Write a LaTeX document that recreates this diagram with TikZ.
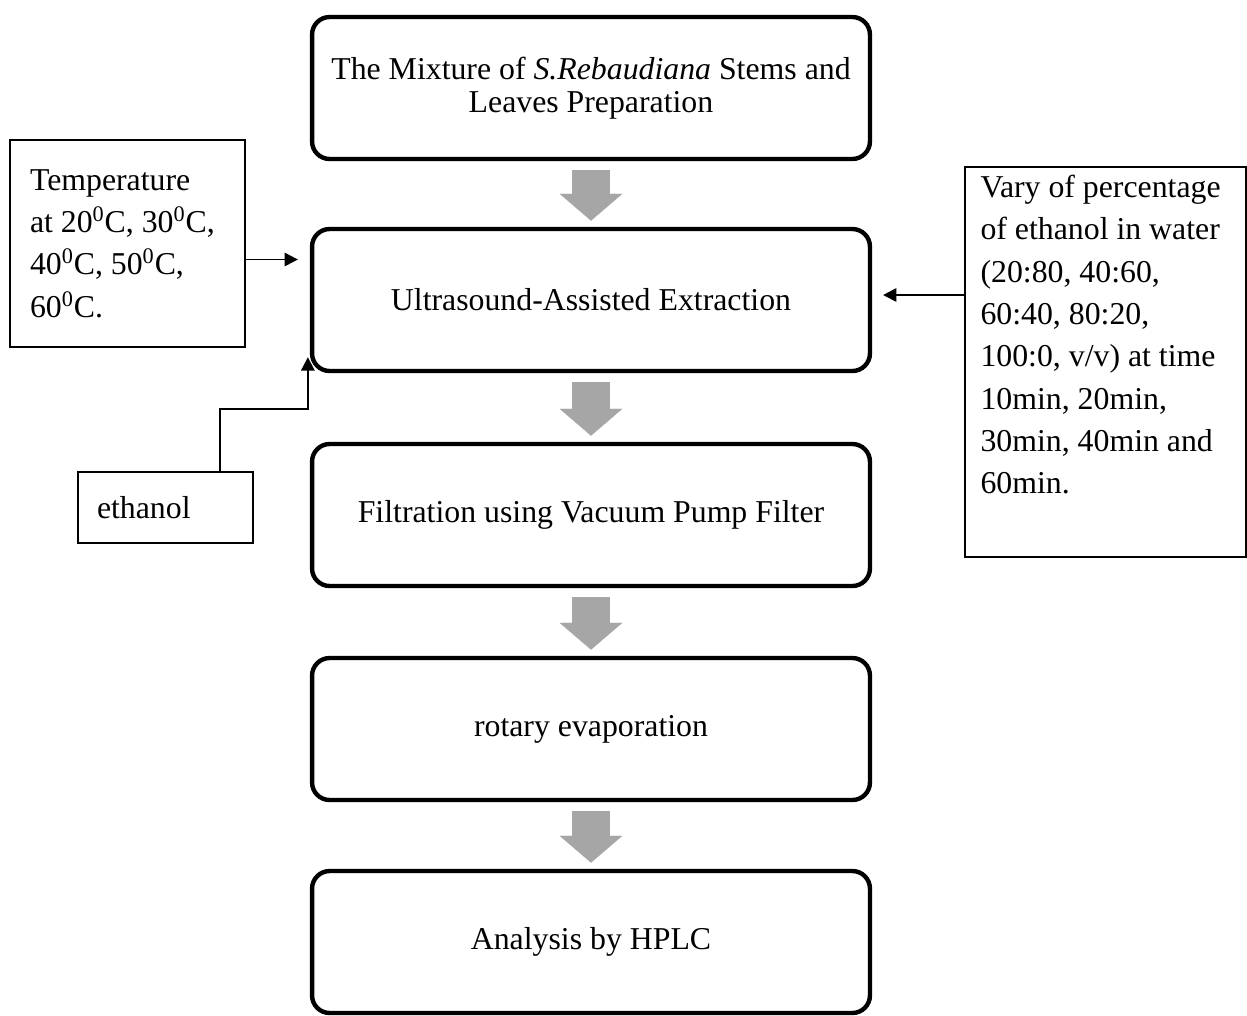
\documentclass[tikz,border=0pt]{standalone}
\usepackage{fontspec}
\setmainfont{Liberation Serif}
\usetikzlibrary{arrows.meta, positioning, calc}
\usepackage{xcolor}
\definecolor{flowgray}{RGB}{166, 166, 166}

\begin{document}
\begin{tikzpicture}[x=0.02cm, y=-0.02cm,
    process/.style={rectangle, rounded corners=10pt, draw=black, line width=2.5pt,
                    minimum width=11.16cm, minimum height=2.84cm, align=center,
                    font=\fontsize{18.1}{18.7}\selectfont},
    note/.style={rectangle, draw=black, line width=1.1pt, align=flush left, inner sep=0pt,
                 font=\fontsize{18.1}{24.1}\selectfont},
    flow/.style={draw=flowgray, line width=22pt,
                 -{Triangle[length=15.3pt, width=35.7pt, line width=0.1pt, fill=flowgray]},
                 shorten <=5pt, shorten >=3.5pt},
    feed/.style={draw=black, line width=1.1pt, -{Triangle[length=7.6pt, width=7.6pt]}}
]
\useasboundingbox (0,0) rectangle (1247,1015);

% Main steps
\node[process] (prep) at (591,88) {The Mixture of \textit{S.Rebaudiana} Stems and\\Leaves Preparation};
\node[process] (uae) at (591,300) {Ultrasound-Assisted Extraction};
\node[process] (filt) at (591,515) {Filtration using Vacuum Pump Filter};
\node[process] (rotary) at (591,729) {rotary evaporation};
\node[process] (hplc) at (591,942) {Analysis by HPLC};

% Left side - conditions
\node[note, minimum width=4.7cm, minimum height=4.14cm, text width=3.9cm] (temp) at (127.5,243.5)
    {Temperature\\at 20\textsuperscript{0}C, 30\textsuperscript{0}C,\\40\textsuperscript{0}C, 50\textsuperscript{0}C,\\60\textsuperscript{0}C.};
\node[note, minimum width=3.5cm, minimum height=1.42cm, text width=2.74cm] (eth) at (165.5,507.5) {ethanol};

% Right side - solvent and time
\node[note, minimum width=5.62cm, minimum height=7.8cm, text width=5cm] (vary) at (1105.5,362)
    {Vary of percentage\\of ethanol in water\\(20:80, 40:60,\\60:40, 80:20,\\100:0, v/v) at time\\10min, 20min,\\30min, 40min and\\60min.\\\strut};

% Connections
\foreach \a/\b in {prep/uae, uae/filt, filt/rotary, rotary/hplc}
    \draw[flow] (\a) -- (\b);

\coordinate (tempin) at ($(temp.east)+(0,16)$);
\draw[feed, shorten >=6.8pt] (tempin) -- (tempin -| uae.west);

\coordinate (varyin) at ($(vary.west)+(0,-67)$);
\draw[feed, shorten >=6.2pt] (varyin) -- (varyin -| uae.east);

\coordinate (ethtip) at ($(uae.south west)+(-2,-16)$);
\draw[feed] ($(eth.north)+(54.5,0)$) |- ($(ethtip)+(0,52)$) -- (ethtip);

\end{tikzpicture}
\end{document}
